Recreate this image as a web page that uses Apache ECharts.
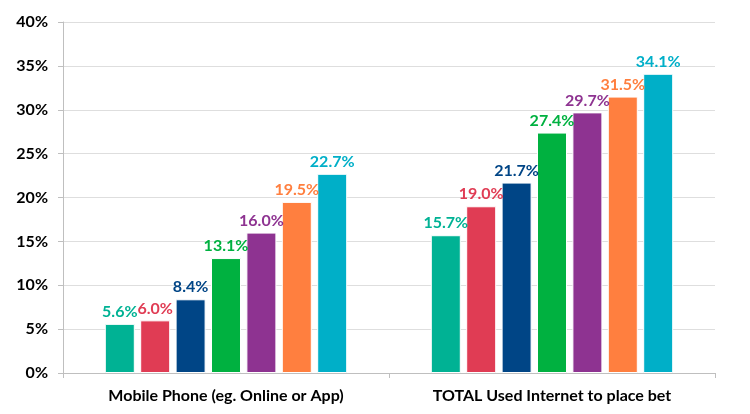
<!DOCTYPE html>
<html>
<head>
<meta charset="utf-8">
<script src="https://cdn.jsdelivr.net/npm/echarts@6/dist/echarts.min.js"></script>
<style>
  html, body { margin: 0; padding: 0; background: #fff; }
  #chart { width: 750px; height: 414px; }
</style>
</head>
<body>
<div id="chart"></div>
<script>
// categories on the x axis
const categories = ['Mobile Phone (eg. Online or App)', 'TOTAL Used Internet to place bet'];
// one value per category for each of the 7 bars
const series1 = [5.6, 15.7];
const series2 = [6.0, 19.0];
const series3 = [8.4, 21.7];
const series4 = [13.1, 27.4];
const series5 = [16.0, 29.7];
const series6 = [19.5, 31.5];
const series7 = [22.7, 34.1];
const allSeries = [series1, series2, series3, series4, series5, series6, series7];
const colors = ['#00B294', '#E03C54', '#004586', '#00B140', '#8E3391', '#FF7F3F', '#00AFC8'];

const font = 'Lato, "Open Sans", sans-serif';

const chart = echarts.init(document.getElementById('chart'));

chart.setOption({
  animation: false,
  grid: { left: 63, right: 35, top: 22, bottom: 41 },
  xAxis: {
    type: 'category',
    data: categories,
    axisLine: { lineStyle: { color: '#bfbfbf' } },
    axisTick: { show: true, length: 5, lineStyle: { color: '#bfbfbf' } },
    axisLabel: { color: '#000', fontFamily: font, fontWeight: 'bold', fontSize: 16, margin: 15 }
  },
  yAxis: {
    type: 'value',
    min: 0,
    max: 40,
    interval: 5,
    axisLine: { show: true, lineStyle: { color: '#bfbfbf' } },
    axisTick: { show: true, length: 5, lineStyle: { color: '#bfbfbf' } },
    splitLine: { lineStyle: { color: '#dedede' } },
    axisLabel: { color: '#000', fontFamily: font, fontWeight: 'bold', fontSize: 16, margin: 15, formatter: '{value}%' }
  },
  series: allSeries.map((vals, i) => ({
    name: 'Series ' + (i + 1),
    type: 'bar',
    data: vals,
    barWidth: 30,
    barGap: '18%',
    itemStyle: { color: colors[i], borderColor: '#fff', borderWidth: 1 },
    label: {
      show: true,
      position: 'top',
      distance: 4,
      color: colors[i],
      fontFamily: font,
      fontWeight: 'bold',
      fontSize: 16,
      formatter: p => p.value.toFixed(1) + '%'
    }
  }))
});
</script>
</body>
</html>
